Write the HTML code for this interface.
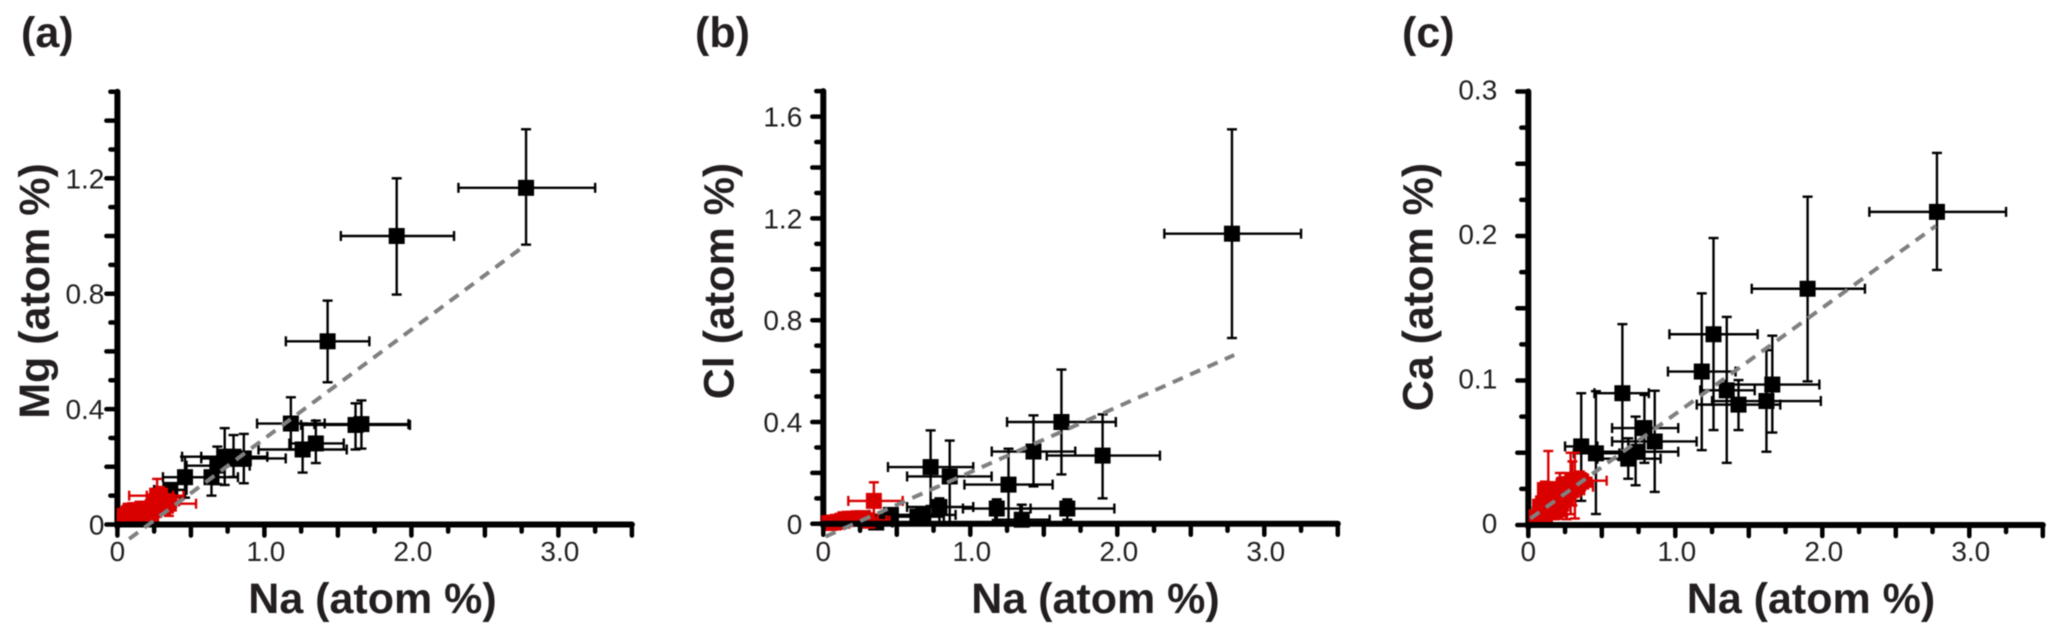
<!DOCTYPE html>
<html lang="en">
<head>
<meta charset="utf-8">
<title>Na vs Mg, Cl and Ca scatter plots</title>
<style>
html,body{margin:0;padding:0;background:#fff;}
svg{display:block;font-family:"Liberation Sans",Arial,sans-serif;filter:blur(0.45px);}
</style>
</head>
<body>
<svg id="figure" width="2067" height="641" viewBox="0 0 2067 641" xmlns="http://www.w3.org/2000/svg">
  <rect x="0" y="0" width="2067" height="641" fill="#fff"/>
  <text x="21" y="47" font-size="43" font-weight="bold" fill="#231f20">(a)</text>
  <text x="695" y="47" font-size="43" font-weight="bold" fill="#231f20">(b)</text>
  <text x="1402" y="47" font-size="43" font-weight="bold" fill="#231f20">(c)</text>
  <text x="372.5" y="613" font-size="43" font-weight="bold" fill="#231f20" text-anchor="middle">Na (atom %)</text>
  <text x="1095.5" y="613" font-size="43" font-weight="bold" fill="#231f20" text-anchor="middle">Na (atom %)</text>
  <text x="1811" y="613" font-size="43" font-weight="bold" fill="#231f20" text-anchor="middle">Na (atom %)</text>
  <text transform="translate(49,291) rotate(-90)" font-size="43" font-weight="bold" fill="#231f20" text-anchor="middle">Mg (atom %)</text>
  <text transform="translate(733.5,281) rotate(-90)" font-size="43" font-weight="bold" fill="#231f20" text-anchor="middle">Cl (atom %)</text>
  <text transform="translate(1432.5,287) rotate(-90)" font-size="43" font-weight="bold" fill="#231f20" text-anchor="middle">Ca (atom %)</text>
</svg>
<script>
// Shared x-axis ticks
const xMajorTicks = [0, 0.5, 1, 1.5, 2, 2.5, 3, 3.5];
const xMinorTicks = [0.25, 0.75, 1.25, 1.75, 2.25, 2.75, 3.25];
const xLabelValues = [0, 1, 2, 3];
const xTickLabels = ["0", "1.0", "2.0", "3.0"];

// Black series: Na shared by all three panels
const blackNa = [2.78, 1.90, 1.43, 1.18, 1.62, 1.66, 1.26, 1.35, 0.86, 0.79, 0.73, 0.68, 0.64, 0.46, 0.36];
const blackNaLow = [2.32, 1.52, 1.146, 0.95, 1.25, 1.34, 0.96, 1.17, 0.57, 0.57, 0.44, 0.47, 0.45, 0.31, 0.25];
const blackNaHigh = [3.25, 2.29, 1.714, 1.41, 1.99, 1.98, 1.56, 1.54, 1.145, 1.02, 1.02, 0.90, 0.82, 0.62, 0.47];

// Panel (a) Mg
const blackMg = [1.167, 1.0, 0.635, 0.35, 0.345, 0.348, 0.26, 0.281, 0.229, 0.235, 0.235, 0.204, 0.164, 0.164, 0.12];
const blackMgLow = [0.97, 0.797, 0.493, 0.26, 0.26, 0.263, 0.18, 0.213, 0.143, 0.165, 0.137, 0.14, 0.10, 0.093, 0.07];
const blackMgHigh = [1.37, 1.2, 0.776, 0.441, 0.42, 0.43, 0.35, 0.36, 0.314, 0.31, 0.334, 0.27, 0.23, 0.235, 0.135];
const redMgNa = [0.05, 0.05, 0.07, 0.09, 0.10, 0.12, 0.13, 0.15, 0.17, 0.17, 0.19, 0.20, 0.22, 0.24, 0.25, 0.27, 0.28, 0.29, 0.30, 0.32, 0.34, 0.35, 0.08, 0.11, 0.14, 0.16, 0.18, 0.21, 0.23, 0.26, 0.31, 0.33];
const redMgNaLow = [0.03, 0.03, 0.05, 0.06, 0.07, 0.08, 0.09, 0.10, 0.12, 0.12, 0.13, 0.14, 0.16, 0.17, 0.18, 0.08, 0.20, 0.20, 0.22, 0.23, 0.24, 0.23, 0.05, 0.08, 0.11, 0.13, 0.15, 0.18, 0.20, 0.23, 0.28, 0.30];
const redMgNaHigh = [0.07, 0.07, 0.09, 0.12, 0.13, 0.16, 0.17, 0.20, 0.22, 0.22, 0.25, 0.26, 0.28, 0.31, 0.32, 0.45, 0.37, 0.38, 0.39, 0.40, 0.42, 0.535, 0.11, 0.14, 0.17, 0.19, 0.21, 0.24, 0.26, 0.29, 0.34, 0.36];
const redMg = [0.022, 0.03, 0.035, 0.048, 0.03, 0.05, 0.025, 0.05, 0.024, 0.055, 0.035, 0.055, 0.045, 0.06, 0.05, 0.10, 0.065, 0.10, 0.07, 0.075, 0.08, 0.072, 0.04, 0.045, 0.05, 0.04, 0.04, 0.05, 0.03, 0.08, 0.06, 0.065];
const redMgLow = [0.01, 0.015, 0.02, 0.03, 0.015, 0.03, 0.01, 0.03, 0.01, 0.035, 0.015, 0.035, 0.025, 0.04, 0.03, 0.04, 0.045, 0.06, 0.05, 0.05, 0.05, 0.03, 0.03, 0.035, 0.04, 0.03, 0.03, 0.04, 0.02, 0.07, 0.05, 0.055];
const redMgHigh = [0.03, 0.045, 0.05, 0.065, 0.045, 0.07, 0.04, 0.07, 0.04, 0.075, 0.05, 0.075, 0.065, 0.08, 0.07, 0.158, 0.085, 0.13, 0.09, 0.10, 0.105, 0.095, 0.05, 0.055, 0.06, 0.05, 0.05, 0.06, 0.04, 0.09, 0.07, 0.075];
const mgFitX = [0.08, 2.78];
const mgFitY = [-0.05, 0.97];
const mgMajorTicks = [0, 0.2, 0.4, 0.6, 0.8, 1.0, 1.2, 1.4];
const mgMinorTicks = [0.1, 0.3, 0.5, 0.7, 0.9, 1.1, 1.3, 1.5];
const mgLabelValues = [0, 0.4, 0.8, 1.2];
const mgTickLabels = ["0", "0.4", "0.8", "1.2"];

// Panel (b) Cl
const blackCl = [1.14, 0.268, 0.284, 0.06, 0.40, 0.06, 0.154, 0.016, 0.186, 0.066, 0.223, 0.035, 0.028, 0.035, 0.005];
const blackClLow = [0.73, 0.10, 0.147, 0.015, 0.194, 0.016, 0, 0, 0, 0.005, 0.07, 0.005, 0, 0.01, 0];
const blackClHigh = [1.55, 0.43, 0.426, 0.096, 0.606, 0.096, 0.295, 0.075, 0.327, 0.10, 0.367, 0.06, 0.05, 0.06, 0.02];
const redClNa = [0.04, 0.07, 0.10, 0.13, 0.15, 0.18, 0.21, 0.24, 0.27, 0.29, 0.30, 0.344];
const redClNaLow = [0.02, 0.04, 0.06, 0.08, 0.09, 0.11, 0.13, 0.15, 0.17, 0.18, 0.18, 0.17];
const redClNaHigh = [0.06, 0.10, 0.14, 0.18, 0.21, 0.25, 0.29, 0.33, 0.37, 0.43, 0.45, 0.54];
const redCl = [0.003, 0.005, 0.008, 0.012, 0.018, 0.02, 0.02, 0.022, 0.022, 0.014, 0.012, 0.09];
const redClLow = [0, 0, 0, 0, 0.005, 0.005, 0.005, 0.008, 0.008, 0.004, 0.004, 0.022];
const redClHigh = [0.008, 0.012, 0.016, 0.022, 0.03, 0.03, 0.03, 0.035, 0.035, 0.025, 0.022, 0.163];
const clFitX = [0.015, 2.795];
const clFitY = [-0.05, 0.663];
const clMajorTicks = [0, 0.2, 0.4, 0.6, 0.8, 1.0, 1.2, 1.4, 1.6];
const clMinorTicks = [0.1, 0.3, 0.5, 0.7, 0.9, 1.1, 1.3, 1.5, 1.7];
const clLabelValues = [0, 0.4, 0.8, 1.2, 1.6];
const clTickLabels = ["0", "0.4", "0.8", "1.2", "1.6"];

// Panel (c) Ca
const blackCa = [0.2167, 0.1635, 0.0833, 0.1062, 0.0858, 0.0972, 0.132, 0.0932, 0.0578, 0.0671, 0.0507, 0.0459, 0.0912, 0.0496, 0.0544];
const blackCaLow = [0.1765, 0.0994, 0.0657, 0.0518, 0.0507, 0.064, 0.0657, 0.043, 0.0229, 0.043, 0.0275, 0.032, 0.045, 0.0076, 0.0167];
const blackCaHigh = [0.2575, 0.2272, 0.1003, 0.1603, 0.121, 0.131, 0.1986, 0.144, 0.0929, 0.09, 0.075, 0.06, 0.139, 0.0926, 0.0912];
const redCaNa = [0.057, 0.08, 0.113, 0.136, 0.113, 0.197, 0.238, 0.33, 0.26, 0.317, 0.35, 0.14, 0.17, 0.215, 0.30, 0.288, 0.18, 0.20, 0.25, 0.28, 0.33, 0.36, 0.15, 0.10, 0.16, 0.22, 0.24];
const redCaNaLow = [0.03, 0.05, 0.07, 0.09, 0.08, 0.13, 0.16, 0.23, 0.17, 0.22, 0.25, 0.09, 0.11, 0.13, 0.20, 0.20, 0.12, 0.17, 0.20, 0.24, 0.28, 0.30, 0.12, 0.07, 0.12, 0.18, 0.20];
const redCaNaHigh = [0.09, 0.11, 0.16, 0.19, 0.15, 0.27, 0.32, 0.44, 0.35, 0.42, 0.533, 0.20, 0.24, 0.30, 0.43, 0.38, 0.25, 0.23, 0.30, 0.32, 0.38, 0.42, 0.18, 0.13, 0.20, 0.26, 0.28];
const redCa = [0.0053, 0.0127, 0.0242, 0.0249, 0.0058, 0.0127, 0.0173, 0.0265, 0.0265, 0.03, 0.0307, 0.015, 0.02, 0.022, 0.03, 0.024, 0.009, 0.018, 0.022, 0.026, 0.03, 0.03, 0.012, 0.015, 0.02, 0.024, 0.027];
const redCaLow = [0, 0.004, 0.018, 0.012, 0.002, 0.008, 0.006, 0.02, 0.004, 0.0045, 0.022, 0.008, 0.012, 0.016, 0.0135, 0.0075, 0.004, 0.012, 0.016, 0.02, 0.024, 0.024, 0.006, 0.009, 0.014, 0.018, 0.021];
const redCaHigh = [0.012, 0.018, 0.03, 0.0512, 0.012, 0.018, 0.024, 0.033, 0.036, 0.05, 0.037, 0.021, 0.026, 0.036, 0.044, 0.05, 0.015, 0.024, 0.028, 0.032, 0.036, 0.036, 0.018, 0.021, 0.026, 0.03, 0.033];
const caFitX = [0.015, 2.773];
const caFitY = [0.0045, 0.207];
const caMajorTicks = [0, 0.05, 0.1, 0.15, 0.2, 0.25, 0.3];
const caMinorTicks = [0.025, 0.075, 0.125, 0.175, 0.225, 0.275];
const caLabelValues = [0, 0.1, 0.2, 0.3];
const caTickLabels = ["0", "0.1", "0.2", "0.3"];

const NS = "http://www.w3.org/2000/svg";
const figure = document.getElementById("figure");

function seg(parent, name, x1, y1, x2, y2, color, width, cap) {
  const el = document.createElementNS(NS, "line");
  el.setAttribute("x1", x1);
  el.setAttribute("y1", y1);
  el.setAttribute("x2", x2);
  el.setAttribute("y2", y2);
  el.setAttribute("stroke", color);
  el.setAttribute("stroke-width", width);
  el.setAttribute("stroke-linecap", cap || "butt");
  
  
  parent.appendChild(el);
  return el;
}

function label(parent, name, x, y, anchor, content) {
  const el = document.createElementNS(NS, "text");
  el.setAttribute("x", x);
  el.setAttribute("y", y);
  el.setAttribute("text-anchor", anchor);
  el.setAttribute("font-size", "28");
  el.setAttribute("fill", "#231f20");
  el.textContent = content;
  
  
  parent.appendChild(el);
}

function drawPoints(parent, name, color, sx, sy, xs, xLow, xHigh, ys, yLow, yHigh) {
  xs.forEach(function (v, i) {
    const cx = sx(v);
    const cy = sy(ys[i]);
    seg(parent, name + "-x-error", sx(xLow[i]), cy, sx(xHigh[i]), cy, color, 2.4);
    seg(parent, name + "-x-cap-low", sx(xLow[i]), cy - 5, sx(xLow[i]), cy + 5, color, 2.4);
    seg(parent, name + "-x-cap-high", sx(xHigh[i]), cy - 5, sx(xHigh[i]), cy + 5, color, 2.4);
    seg(parent, name + "-y-error", cx, sy(yLow[i]), cx, sy(yHigh[i]), color, 2.4);
    seg(parent, name + "-y-cap-low", cx - 5, sy(yLow[i]), cx + 5, sy(yLow[i]), color, 2.4);
    seg(parent, name + "-y-cap-high", cx - 5, sy(yHigh[i]), cx + 5, sy(yHigh[i]), color, 2.4);
  });
  xs.forEach(function (v, i) {
    const marker = document.createElementNS(NS, "rect");
    marker.setAttribute("x", sx(v) - 8);
    marker.setAttribute("y", sy(ys[i]) - 8);
    marker.setAttribute("width", 16);
    marker.setAttribute("height", 16);
    marker.setAttribute("fill", color);
    
    
    parent.appendChild(marker);
  });
}

function drawPanel(p) {
  const group = document.createElementNS(NS, "g");
  
  
  figure.appendChild(group);

  const sx = function (v) { return p.x0 + 147 * v; };
  const sy = function (v) { return p.y0 - p.k * v; };
  const ink = "#000";

  // y axis
  seg(group, "y-axis-line-" + p.id, p.x0, sy(p.yTop), p.x0, p.y0 + 2, ink, 6, "round");
  p.yMajor.forEach(function (v) {
    seg(group, "y-major-tick-" + p.id, p.x0 - 11, sy(v), p.x0, sy(v), ink, 4.5, "round");
  });
  p.yMinor.forEach(function (v) {
    seg(group, "y-minor-tick-" + p.id, p.x0 - 7, sy(v), p.x0, sy(v), ink, 4.5, "round");
  });
  p.yLabelValues.forEach(function (v, i) {
    label(group, "y-tick-label-" + p.id, p.x0 - p.labelGap, sy(v) + p.labelDy, "end", p.yLabels[i]);
  });

  // Series
  drawPoints(group, "black-series-" + p.id, "#000", sx, sy, blackNa, blackNaLow, blackNaHigh, p.blackY, p.blackYLow, p.blackYHigh);
  drawPoints(group, "red-series-" + p.id, "#d90000", sx, sy, p.redX, p.redXLow, p.redXHigh, p.redY, p.redYLow, p.redYHigh);

  // x axis
  seg(group, "x-axis-line-" + p.id, p.x0, p.y0, sx(3.5), p.y0, ink, 6, "round");
  xMajorTicks.forEach(function (v) {
    seg(group, "x-major-tick-" + p.id, sx(v), p.y0, sx(v), p.y0 + 11, ink, 4.5, "round");
  });
  xMinorTicks.forEach(function (v) {
    seg(group, "x-minor-tick-" + p.id, sx(v), p.y0, sx(v), p.y0 + 7, ink, 4.5, "round");
  });
  xLabelValues.forEach(function (v, i) {
    label(group, "x-tick-label-" + p.id, sx(v) + (i ? 1.5 : 0), 561, "middle", xTickLabels[i]);
  });

  // Trend line
  const fit = seg(group, "trend-line-" + p.id, sx(p.fitX[0]), sy(p.fitY[0]), sx(p.fitX[1]), sy(p.fitY[1]), "#808080", 4);
  fit.setAttribute("stroke-dasharray", "11 8");
}

const panels = [
  { id: "a", x0: 117.4, y0: 524.5, k: 288.5, yTop: 1.5, labelGap: 13, labelDy: 10,
    yMajor: mgMajorTicks, yMinor: mgMinorTicks, yLabelValues: mgLabelValues, yLabels: mgTickLabels,
    blackY: blackMg, blackYLow: blackMgLow, blackYHigh: blackMgHigh,
    redX: redMgNa, redXLow: redMgNaLow, redXHigh: redMgNaHigh, redY: redMg, redYLow: redMgLow, redYHigh: redMgHigh,
    fitX: mgFitX, fitY: mgFitY },
  { id: "b", x0: 823.3, y0: 523.8, k: 254.5, yTop: 1.7, labelGap: 21, labelDy: 10,
    yMajor: clMajorTicks, yMinor: clMinorTicks, yLabelValues: clLabelValues, yLabels: clTickLabels,
    blackY: blackCl, blackYLow: blackClLow, blackYHigh: blackClHigh,
    redX: redClNa, redXLow: redClNaLow, redXHigh: redClNaHigh, redY: redCl, redYLow: redClLow, redYHigh: redClHigh,
    fitX: clFitX, fitY: clFitY },
  { id: "c", x0: 1528.3, y0: 525, k: 1445, yTop: 0.3, labelGap: 31, labelDy: 8,
    yMajor: caMajorTicks, yMinor: caMinorTicks, yLabelValues: caLabelValues, yLabels: caTickLabels,
    blackY: blackCa, blackYLow: blackCaLow, blackYHigh: blackCaHigh,
    redX: redCaNa, redXLow: redCaNaLow, redXHigh: redCaNaHigh, redY: redCa, redYLow: redCaLow, redYHigh: redCaHigh,
    fitX: caFitX, fitY: caFitY }
];

panels.forEach(drawPanel);
</script>
</body>
</html>
